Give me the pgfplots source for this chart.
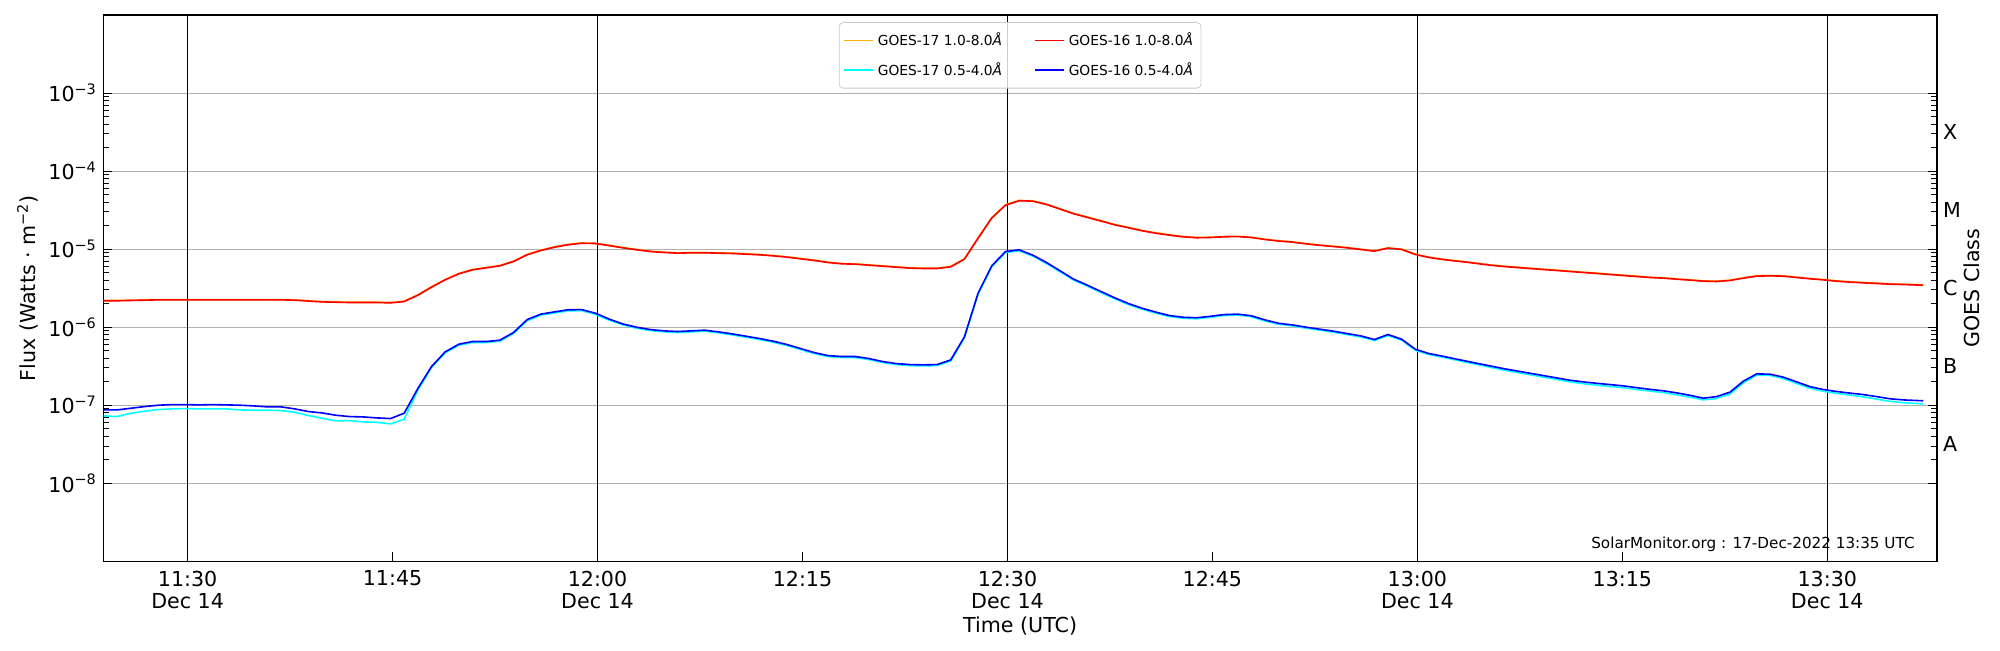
\documentclass[border=0pt]{standalone}
\usepackage{fontspec}
\setmainfont{DejaVu Sans}
\usepackage{pgfplots}
\usepackage{pgfplotstable}
\pgfplotsset{compat=1.18}
\definecolor{goesorange}{RGB}{255,176,0}
\definecolor{goescyan}{RGB}{0,255,255}
\definecolor{goesred}{RGB}{255,0,0}
\definecolor{goesblue}{RGB}{0,0,255}
\definecolor{gridgray}{RGB}{176,176,176}
\definecolor{legframe}{RGB}{204,204,204}
\newcommand{\tfont}{\fontsize{10.3}{11.35}\selectfont}

\pgfplotstableread{
t      g17L     g16L     g17S     g16S
23.85  2.20e-6  2.18e-6  7.30e-8  8.71e-8
24.85  2.20e-6  2.18e-6  7.16e-8  8.71e-8
25.85  2.22e-6  2.20e-6  7.90e-8  9.15e-8
26.85  2.24e-6  2.22e-6  8.38e-8  9.61e-8
27.85  2.26e-6  2.24e-6  8.80e-8  1.00e-7
28.85  2.26e-6  2.24e-6  8.97e-8  1.02e-7
29.85  2.26e-6  2.24e-6  9.06e-8  1.02e-7
30.85  2.26e-6  2.24e-6  8.97e-8  1.01e-7
31.85  2.26e-6  2.24e-6  8.97e-8  1.02e-7
32.85  2.26e-6  2.24e-6  8.97e-8  1.01e-7
33.85  2.26e-6  2.24e-6  8.71e-8  1.00e-7
34.85  2.26e-6  2.24e-6  8.63e-8  9.80e-8
35.85  2.26e-6  2.24e-6  8.63e-8  9.52e-8
36.85  2.26e-6  2.24e-6  8.55e-8  9.52e-8
37.85  2.24e-6  2.22e-6  8.13e-8  8.97e-8
38.85  2.18e-6  2.16e-6  7.37e-8  8.29e-8
39.85  2.13e-6  2.11e-6  6.81e-8  7.97e-8
40.85  2.11e-6  2.09e-6  6.30e-8  7.44e-8
41.85  2.09e-6  2.07e-6  6.36e-8  7.16e-8
42.85  2.09e-6  2.07e-6  6.11e-8  7.08e-8
43.85  2.09e-6  2.07e-6  6.05e-8  6.88e-8
44.85  2.07e-6  2.05e-6  5.76e-8  6.75e-8
45.85  2.15e-6  2.13e-6  6.62e-8  7.90e-8
46.85  2.60e-6  2.57e-6  1.56e-7  1.64e-7
47.85  3.29e-6  3.26e-6  3.05e-7  3.13e-7
48.85  4.08e-6  4.04e-6  4.70e-7  4.83e-7
49.85  4.88e-6  4.83e-6  5.88e-7  6.05e-7
50.85  5.48e-6  5.43e-6  6.36e-7  6.55e-7
51.85  5.82e-6  5.76e-6  6.36e-7  6.55e-7
52.85  6.17e-6  6.11e-6  6.61e-7  6.81e-7
53.85  7.02e-6  6.95e-6  8.30e-7  8.55e-7
54.85  8.55e-6  8.46e-6  1.21e-6  1.25e-6
55.85  9.71e-6  9.61e-6  1.43e-6  1.47e-6
56.85  1.07e-5  1.06e-5  1.52e-6  1.57e-6
57.85  1.15e-5  1.14e-5  1.62e-6  1.67e-6
58.85  1.20e-5  1.19e-5  1.63e-6  1.68e-6
59.85  1.19e-5  1.18e-5  1.46e-6  1.51e-6
60.85  1.12e-5  1.11e-5  1.23e-6  1.27e-6
61.85  1.05e-5  1.04e-5  1.07e-6  1.10e-6
62.85  9.91e-6  9.81e-6  9.70e-7  1.00e-6
63.85  9.42e-6  9.33e-6  9.05e-7  9.33e-7
64.85  9.15e-6  9.06e-6  8.70e-7  8.97e-7
65.85  8.98e-6  8.89e-6  8.54e-7  8.80e-7
66.85  9.06e-6  8.97e-6  8.70e-7  8.97e-7
67.85  9.06e-6  8.97e-6  8.88e-7  9.15e-7
68.85  8.98e-6  8.89e-6  8.45e-7  8.71e-7
69.85  8.89e-6  8.80e-6  7.96e-7  8.21e-7
70.85  8.72e-6  8.63e-6  7.44e-7  7.67e-7
71.85  8.54e-6  8.46e-6  6.95e-7  7.16e-7
72.85  8.29e-6  8.21e-6  6.42e-7  6.62e-7
73.85  7.98e-6  7.90e-6  5.82e-7  6.00e-7
74.85  7.60e-6  7.52e-6  5.17e-7  5.33e-7
75.85  7.23e-6  7.16e-6  4.59e-7  4.73e-7
76.85  6.82e-6  6.75e-6  4.20e-7  4.33e-7
77.85  6.55e-6  6.49e-6  4.08e-7  4.21e-7
78.85  6.48e-6  6.42e-6  4.08e-7  4.21e-7
79.85  6.29e-6  6.23e-6  3.85e-7  3.97e-7
80.85  6.11e-6  6.05e-6  3.52e-7  3.63e-7
81.85  5.94e-6  5.88e-6  3.32e-7  3.42e-7
82.85  5.77e-6  5.71e-6  3.22e-7  3.32e-7
83.85  5.71e-6  5.65e-6  3.19e-7  3.29e-7
84.85  5.71e-6  5.65e-6  3.22e-7  3.32e-7
85.85  6.00e-6  5.94e-6  3.70e-7  3.81e-7
86.85  7.51e-6  7.44e-6  7.29e-7  7.52e-7
87.85  1.39e-5  1.38e-5  2.65e-6  2.73e-6
88.85  2.53e-5  2.50e-5  5.93e-6  6.11e-6
89.85  3.69e-5  3.65e-5  9.02e-6  9.30e-6
90.85  4.21e-5  4.17e-5  9.52e-6  9.81e-6
91.85  4.16e-5  4.12e-5  8.13e-6  8.38e-6
92.85  3.78e-5  3.74e-5  6.55e-6  6.75e-6
93.85  3.29e-5  3.26e-5  5.12e-6  5.28e-6
94.85  2.87e-5  2.84e-5  4.00e-6  4.12e-6
95.85  2.58e-5  2.55e-5  3.35e-6  3.45e-6
96.85  2.31e-5  2.29e-5  2.77e-6  2.86e-6
97.85  2.07e-5  2.05e-5  2.31e-6  2.38e-6
98.85  1.90e-5  1.88e-5  1.95e-6  2.01e-6
99.85  1.74e-5  1.72e-5  1.70e-6  1.75e-6
100.85 1.62e-5  1.60e-5  1.51e-6  1.56e-6
101.85 1.53e-5  1.51e-5  1.37e-6  1.41e-6
102.85 1.45e-5  1.44e-5  1.30e-6  1.34e-6
103.85 1.41e-5  1.40e-5  1.28e-6  1.32e-6
104.85 1.42e-5  1.41e-5  1.34e-6  1.38e-6
105.85 1.45e-5  1.44e-5  1.41e-6  1.45e-6
106.85 1.46e-5  1.45e-5  1.43e-6  1.47e-6
107.85 1.42e-5  1.41e-5  1.36e-6  1.40e-6
108.85 1.34e-5  1.33e-5  1.20e-6  1.24e-6
109.85 1.28e-5  1.27e-5  1.09e-6  1.12e-6
110.85 1.24e-5  1.23e-5  1.04e-6  1.07e-6
111.85 1.18e-5  1.17e-5  9.70e-7  1.00e-6
112.85 1.13e-5  1.12e-5  9.15e-7  9.43e-7
113.85 1.09e-5  1.08e-5  8.62e-7  8.89e-7
114.85 1.05e-5  1.04e-5  8.04e-7  8.29e-7
115.85 1.00e-5  9.90e-6  7.51e-7  7.74e-7
116.85 9.52e-6  9.43e-6  6.74e-7  6.95e-7
117.85 1.04e-5  1.03e-5  7.81e-7  8.05e-7
118.85 1.00e-5  9.90e-6  6.81e-7  7.02e-7
119.85 8.64e-6  8.55e-6  5.06e-7  5.22e-7
120.85 7.90e-6  7.82e-6  4.45e-7  4.59e-7
121.85 7.44e-6  7.37e-6  4.12e-7  4.25e-7
122.88 7.09e-6  7.02e-6  3.77e-7  3.89e-7
123.37 6.95e-6  6.88e-6  3.61e-7  3.74e-7
124.34 6.62e-6  6.55e-6  3.33e-7  3.45e-7
125.32 6.29e-6  6.23e-6  3.07e-7  3.19e-7
126.29 6.06e-6  6.00e-6  2.83e-7  2.95e-7
127.27 5.88e-6  5.82e-6  2.63e-7  2.75e-7
128.24 5.71e-6  5.65e-6  2.46e-7  2.57e-7
129.22 5.53e-6  5.48e-6  2.29e-7  2.40e-7
130.19 5.38e-6  5.33e-6  2.14e-7  2.24e-7
131.17 5.22e-6  5.17e-6  1.99e-7  2.09e-7
132.15 5.07e-6  5.02e-6  1.89e-7  1.99e-7
133.12 4.93e-6  4.88e-6  1.81e-7  1.91e-7
134.10 4.78e-6  4.73e-6  1.74e-7  1.84e-7
135.07 4.64e-6  4.59e-6  1.68e-7  1.77e-7
136.05 4.50e-6  4.46e-6  1.59e-7  1.68e-7
137.02 4.37e-6  4.33e-6  1.52e-7  1.60e-7
138.00 4.29e-6  4.25e-6  1.45e-7  1.53e-7
138.98 4.16e-6  4.12e-6  1.36e-7  1.44e-7
139.95 4.05e-6  4.01e-6  1.27e-7  1.34e-7
140.93 3.93e-6  3.89e-6  1.17e-7  1.23e-7
141.90 3.89e-6  3.85e-6  1.22e-7  1.29e-7
142.88 4.01e-6  3.97e-6  1.39e-7  1.47e-7
143.85 4.29e-6  4.25e-6  1.93e-7  2.03e-7
144.83 4.56e-6  4.51e-6  2.43e-7  2.52e-7
145.80 4.60e-6  4.55e-6  2.41e-7  2.50e-7
146.78 4.56e-6  4.51e-6  2.20e-7  2.29e-7
147.76 4.37e-6  4.33e-6  1.90e-7  1.99e-7
148.73 4.21e-6  4.17e-6  1.65e-7  1.73e-7
149.71 4.08e-6  4.04e-6  1.51e-7  1.59e-7
150.68 3.93e-6  3.89e-6  1.42e-7  1.50e-7
151.66 3.82e-6  3.78e-6  1.35e-7  1.43e-7
152.63 3.74e-6  3.70e-6  1.28e-7  1.37e-7
153.61 3.67e-6  3.63e-6  1.20e-7  1.29e-7
154.58 3.60e-6  3.56e-6  1.12e-7  1.21e-7
155.56 3.56e-6  3.52e-6  1.08e-7  1.17e-7
157.02 3.49e-6  3.45e-6  1.04e-7  1.14e-7
}\goes

\begin{document}
\begin{tikzpicture}
\begin{axis}[
  at={(0,0)}, anchor=south west,
  scale only axis, width=916.85pt, height=273.15pt,
  xmin=23.83, xmax=158.03,
  ymode=log, ymin=1e-9, ymax=1e-2,
  axis line style={line width=0.65pt},
  tick align=inside,
  xtick pos=bottom, ytick pos=both,
  xtick={30,45,...,150},
  xticklabels={{11:30\\Dec 14},11:45,{12:00\\Dec 14},12:15,{12:30\\Dec 14},12:45,{13:00\\Dec 14},13:15,{13:30\\Dec 14}},
  xticklabel style={font=\tfont, align=center, inner sep=0pt, anchor=north, yshift=-4.5pt},
  ytick={1e-8,1e-7,1e-6,1e-5,1e-4,1e-3},
  yticklabels={10\textsuperscript{−8},10\textsuperscript{−7},10\textsuperscript{−6},10\textsuperscript{−5},10\textsuperscript{−4},10\textsuperscript{−3}},
  yticklabel style={font=\tfont, inner sep=0pt, anchor=east, xshift=-3pt},
  major tick length=4.5pt, minor tick length=3pt,
  tick style={black, line width=0.5pt},
  ymajorgrids, major grid style={gridgray, line width=0.5pt},
  xlabel={Time (UTC)},
  xlabel style={font=\tfont, at={(axis description cs:0.5,-0.119)}, anchor=center},
  ylabel={Flux (Watts ⋅ m\textsuperscript{−2})},
  ylabel style={font=\tfont, at={(axis description cs:-0.0413,0.5)}, anchor=center},
  legend columns=2,
  legend cell align=left,
  legend style={at={(0.5,0.987)}, anchor=north, font=\fontsize{6.9}{8.3}\selectfont,
    draw=legframe, rounded corners=2pt, fill=white, fill opacity=0.8, text opacity=1,
    inner xsep=2pt, inner ysep=3pt, row sep=3pt,
    /tikz/every even column/.append style={column sep=14pt}},
  legend image code/.code={\draw[#1] (0pt,0pt) -- (14.5pt,0pt);},
]
\draw[black, line width=0.7pt] (axis cs:30,1e-9) -- (axis cs:30,1e-2);
\draw[black, line width=0.7pt] (axis cs:60,1e-9) -- (axis cs:60,1e-2);
\draw[black, line width=0.7pt] (axis cs:90,1e-9) -- (axis cs:90,1e-2);
\draw[black, line width=0.7pt] (axis cs:120,1e-9) -- (axis cs:120,1e-2);
\draw[black, line width=0.7pt] (axis cs:150,1e-9) -- (axis cs:150,1e-2);
\addplot[goesorange, line width=0.8pt] table[x=t, y=g17L] {\goes};
\addlegendentry{GOES-17 1.0-8.0\textit{Å}}
\addplot[goesred, line width=0.8pt] table[x=t, y=g16L] {\goes};
\addlegendentry{GOES-16 1.0-8.0\textit{Å}}
\addplot[goescyan, line width=0.8pt] table[x=t, y=g17S] {\goes};
\addlegendentry{GOES-17 0.5-4.0\textit{Å}}
\addplot[goesblue, line width=0.8pt] table[x=t, y=g16S] {\goes};
\addlegendentry{GOES-16 0.5-4.0\textit{Å}}
\node[font=\fontsize{7.6}{9}\selectfont, anchor=base east, inner sep=0pt] at (rel axis cs:0.988,0.0243) {SolarMonitor.org : 17-Dec-2022 13:35 UTC};
\end{axis}
\begin{axis}[
  at={(0,0)}, anchor=south west,
  scale only axis, width=916.85pt, height=273.15pt,
  xmin=23.83, xmax=158.03,
  ymode=log, ymin=1e-9, ymax=1e-2,
  hide x axis,
  axis y line*=right,
  y axis line style={draw=none},
  ytick={3.1623e-8,3.1623e-7,3.1623e-6,3.1623e-5,3.1623e-4},
  yticklabels={A,B,C,M,X},
  major tick length=0pt, yminorticks=false,
  yticklabel style={font=\tfont, inner sep=0pt, anchor=west, xshift=2.85pt},
  ylabel={GOES Class},
  ylabel style={font=\tfont, at={(axis description cs:1.0188,0.5)}, anchor=center},
]
\end{axis}
\pgfresetboundingbox
\useasboundingbox (-51.65pt,-44.35pt) rectangle (948.35pt,280.65pt);
\end{tikzpicture}
\end{document}
